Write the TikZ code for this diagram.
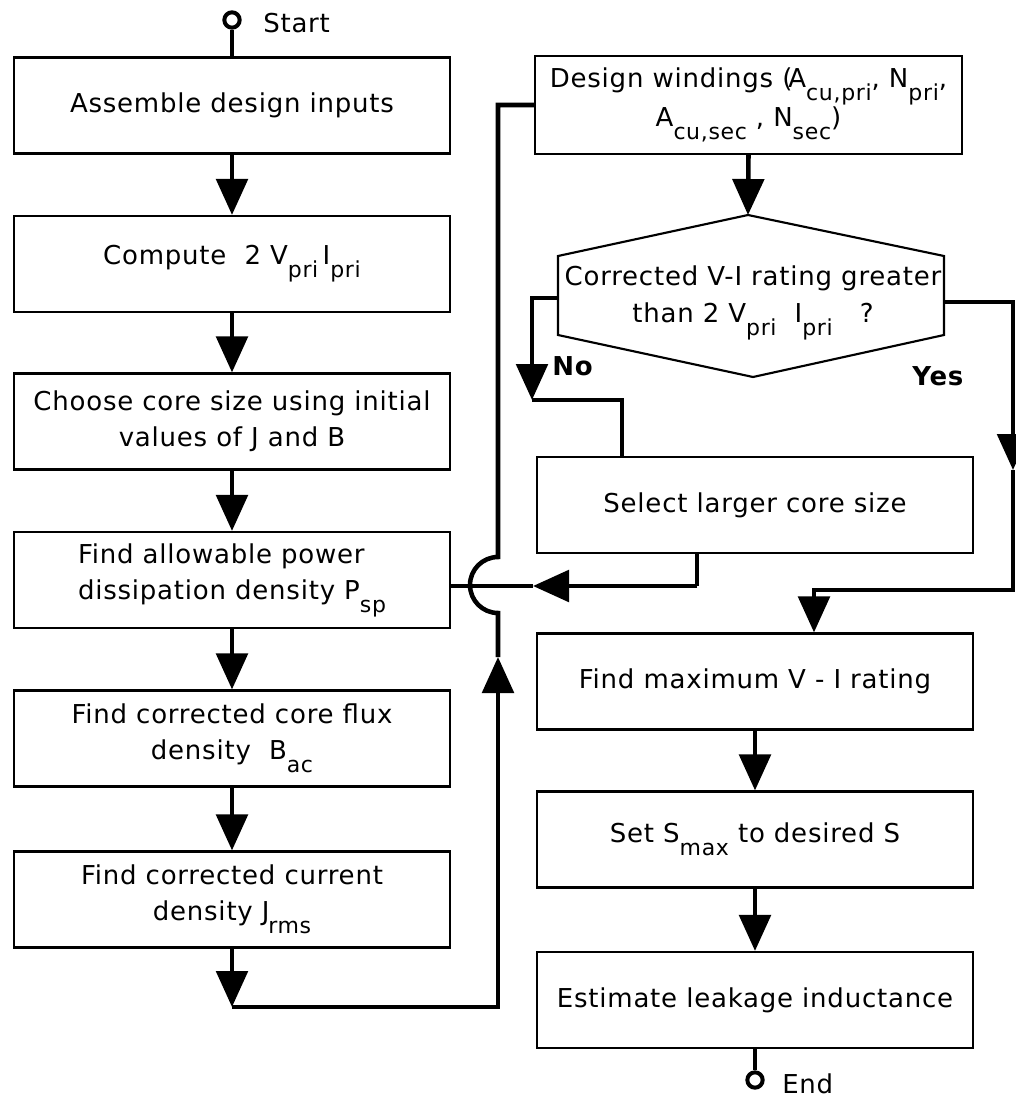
\documentclass[tikz,border=0pt]{standalone}
\usepackage{fontspec}
\setmainfont{DejaVu Sans}[LetterSpace=3]
\usetikzlibrary{arrows.meta}
\newcommand\mainsz{\fontsize{19.5pt}{27pt}\selectfont}
\newcommand\lo[1]{\raisebox{-0.5em}{\fontsize{16.5pt}{16.5pt}\selectfont #1}}
\begin{document}
\begin{tikzpicture}[x=0.75pt,y=-0.75pt,
  box/.style={draw, line width=1.6pt, minimum width=436*0.75pt, minimum height=96*0.75pt, align=center, inner sep=2pt, font=\mainsz},
  conn/.style={line width=3.4pt},
  arr/.style={conn, -{Triangle[length=27pt,width=23.5pt]}},
  term/.style={draw, circle, line width=3pt, minimum size=11.5pt, inner sep=0pt},
  lbl/.style={font=\mainsz, anchor=base west, inner sep=0pt}]
\useasboundingbox (0,0) rectangle (1015,1099);

% terminals
\node[term] (start) at (232,20) {};
\node[lbl] (starttxt) at (263,33) {Start};
\node[term] (end) at (755,1080) {};
\node[lbl] (endtxt) at (782,1093) {End};

% left column
\node[box] (B1) at (232,105.5) {Assemble design inputs};
\node[box] (B2) at (232,264) {Compute\ \ 2 V\lo{pri}\,I\lo{pri}};
\node[box] (B3) at (232,421.5) {Choose core size using initial\\values of J and B};
\node[box, align=left] (B4) at (232,580) {Find allowable power\\dissipation density P\lo{sp}};
\node[box] (B5) at (232,738.5) {Find corrected core flux\\density\ \ B\lo{ac}};
\node[box] (B6) at (232,899.5) {Find corrected current\\density J\kern-1pt\lo{rms}};

% right column
\node[box, minimum width=427*0.75pt, minimum height=98*0.75pt, font=\fontsize{19.5pt}{29pt}\selectfont] (R1) at (748.5,105) {Design windings (\kern-3pt A\lo{cu,pri}, N\lo{pri},\\A\lo{cu,sec} , N\lo{sec})};
\node[box] (R3) at (755,505) {Select larger core size};
\node[box] (R4) at (755,681.5) {Find maximum V - I rating};
\node[box] (R5) at (755,839.5) {Set S\lo{max} to desired S};
\node[box] (R6) at (755,1000) {Estimate leakage inductance};

% decision
\coordinate (dT) at (748,215);
\coordinate (dUR) at (944,256);
\coordinate (dLR) at (944,335);
\coordinate (dB) at (753,377);
\coordinate (dLL) at (558,335);
\coordinate (dUL) at (558,256);
\draw[line width=1.6pt] (dT) -- (dUR) -- (dLR) -- (dB) -- (dLL) -- (dUL) -- cycle;
\node[font=\fontsize{19.5pt}{28pt}\selectfont, align=center, inner sep=0pt] (dtext) at (753,303) {Corrected V-I rating greater\\than 2 V\lo{pri}\ \ I\lo{pri}\ \ \ ?};
\node[lbl, font=\mainsz\bfseries] (no) at (552,375) {No};
\node[lbl, font=\mainsz\bfseries] (yes) at (912,385) {Yes};

% left column connectors
\draw[conn] (start) -- (B1.north);
\draw[arr] (B1.south) -- (B2.north);
\draw[arr] (B2.south) -- (B3.north);
\draw[arr] (B3.south) -- (B4.north);
\draw[arr] (B4.south) -- (B5.north);
\draw[arr] (B5.south) -- (B6.north);

% feedback loop from left column to design windings
\coordinate (c1) at (232,1007);
\coordinate (c2) at (498,1007);
\coordinate (c3) at (498,657);
\coordinate (hb) at (498,613);
\coordinate (c4) at (498,105);
\draw[arr] (B6.south) -- (c1);
\draw[arr] (c1) -- (c2) -- (c3);
\draw[conn] (c3) -- (hb) arc[start angle=270, end angle=90, radius=21pt] -- (c4) -- (R1.west);

% right column connectors
\draw[arr] (R1.south) -- (dT);
\coordinate (dNo) at (558,298);
\coordinate (n1) at (532,298);
\coordinate (n2) at (532,400);
\coordinate (n3) at (622,400);
\draw[arr] (dNo) -- (n1) -- (n2);
\draw[conn] (n2) -- (n3) -- (n3 |- R3.north);

\coordinate (s1) at (697,586);
\coordinate (s2) at (533,586);
\draw[conn] (R3.south -| s1) -- (s1);
\draw[arr] (s1) -- (s2);
\draw[conn] (s2) -- (s2 -| B4.east);

\coordinate (dYes) at (944,302);
\coordinate (y1) at (1013,302);
\coordinate (y2) at (1013,470);
\coordinate (y3) at (1013,590);
\coordinate (y4) at (814,590);
\draw[arr] (dYes) -- (y1) -- (y2);
\draw[arr] (y2) -- (y3) -- (y4) -- (y4 |- R4.north);

\draw[arr] (R4.south) -- (R5.north);
\draw[arr] (R5.south) -- (R6.north);
\draw[conn] (R6.south -| end) -- (end);
\end{tikzpicture}
\end{document}
